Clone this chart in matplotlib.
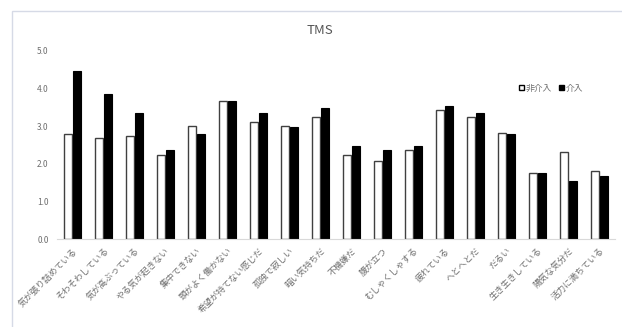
import numpy as np
import matplotlib.pyplot as plt
from matplotlib.patches import Rectangle, Patch

plt.rcParams['font.family'] = ['Noto Sans CJK JP', 'DejaVu Sans']

labels = ['気が張り詰めている', 'そわそわしている', '気が高ぶっている', 'やる気が起きない',
          '集中できない', '頭がよく働かない', '希望が持てない感じだ', '孤独で寂しい',
          '暗い気持ちだ', '不機嫌だ', '腹が立つ', 'むしゃくしゃする', '疲れている',
          'へとへとだ', 'だるい', '生き生きしている', '陽気な気分だ', '活力に満ちている']
non_intervention = [2.80, 2.69, 2.75, 2.25, 3.00, 3.68, 3.12, 3.00, 3.26,
                    2.25, 2.07, 2.37, 3.43, 3.25, 2.81, 1.76, 2.31, 1.81]
intervention = [4.48, 3.86, 3.36, 2.36, 2.80, 3.68, 3.35, 2.99, 3.48,
                2.49, 2.36, 2.49, 3.55, 3.35, 2.80, 1.75, 1.56, 1.68]
yticks = [0.0, 1.0, 2.0, 3.0, 4.0, 5.0]

grey = '#6f6f6f'
fig = plt.figure(figsize=(6.22, 3.27), dpi=100)
# light frame of the chart area
fig.patches.append(Rectangle((12/622, -0.01), 1.0, 1 - 11/327 + 0.01,
                             transform=fig.transFigure, fill=False,
                             edgecolor='#d6dae6', linewidth=1.0))
ax = fig.add_axes([57/622, 1 - 239.3/327, (615 - 57)/622, (239.3 - 51)/327])

x = np.arange(len(labels))
w = 0.26
ax.bar(x - w/2 - 0.015, non_intervention, w, color='white', edgecolor='#404040', linewidth=1.0)
ax.bar(x + w/2 + 0.015, intervention, w, color='black', edgecolor='black', linewidth=0.8)

ax.set_xlim(-0.5, len(labels) - 0.5)
ax.set_ylim(0, 5)
ax.set_yticks(yticks)
ax.set_yticklabels([f'{v:.1f}' for v in yticks], fontsize=6, color=grey)
ax.set_xticks(x)
ax.set_xticklabels(labels, rotation=45, ha='right', rotation_mode='anchor',
                   fontsize=6.3, color=grey)
ax.tick_params(axis='both', length=0, pad=5)
ax.tick_params(axis='y', pad=6)
for s in ['top', 'right', 'left']:
    ax.spines[s].set_visible(False)
ax.spines['bottom'].set_color('#d9d9d9')

fig.text(320/622, 1 - 30/327, 'TMS', ha='center', va='center', fontsize=9.5, color='#555555')

handles = [Patch(facecolor='white', edgecolor='black', linewidth=1.0, label='非介入'),
           Patch(facecolor='black', edgecolor='black', label='介入')]
fig.legend(handles=handles, loc='center', bbox_to_anchor=(551/622, 1 - 88/327),
           ncol=2, frameon=False, fontsize=6.3, handlelength=0.6, handleheight=0.6,
           handletextpad=0.2, columnspacing=0.8, labelcolor=grey)

fig.savefig('out.png', dpi=100)
